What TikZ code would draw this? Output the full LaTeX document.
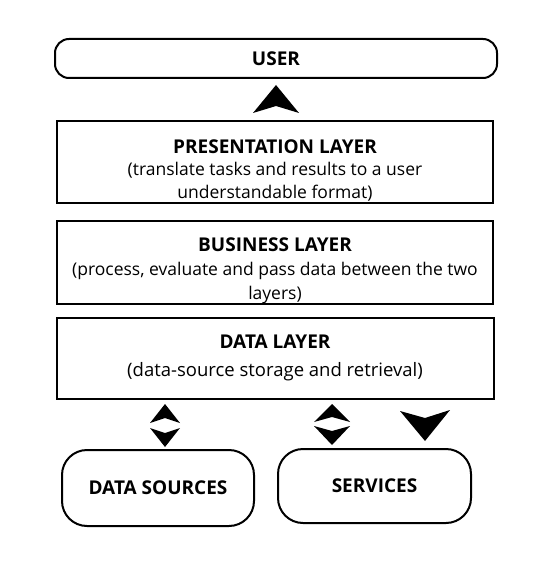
\documentclass[tikz,border=0pt]{standalone}
\usepackage{fontspec}
\setmainfont{Open Sans}
\usetikzlibrary{positioning}

\newcommand{\layertitle}[1]{{\fontsize{19}{23}\selectfont\bfseries #1}}

\tikzset{
  layer/.style={draw, line width=2pt, minimum width=436pt, minimum height=82pt, inner sep=0pt},
  layertext/.style={inner sep=0pt, align=center, font=\fontsize{17.5}{22.5}\selectfont},
  endbox/.style={draw, line width=2pt, rounded corners=25pt, inner sep=0pt,
    align=center, font=\fontsize{19}{23}\selectfont\bfseries},
  headfill/.style={fill=black},
}

\begin{document}
\begin{tikzpicture}[x=1pt, y=-1pt]
\useasboundingbox (0,0) rectangle (554,583);

% User on top
\node[endbox, rounded corners=14pt, minimum width=442pt, minimum height=39pt] (user) at (276,58.5) {USER};

% The three layers
\node[layer] (pres) at (275,162) {};
\node[layertext] (pres-text) at (275,170) {\layertitle{PRESENTATION LAYER}\\(translate tasks and results to a user\\understandable format)};
\node[layer, minimum height=83pt] (bus) at (275,262.5) {};
\node[layertext, font=\fontsize{17.5}{24}\selectfont] (bus-text) at (275,271) {\layertitle{BUSINESS LAYER}\\(process, evaluate and pass data between the two\\layers)};
\node[layer, minimum width=437pt, minimum height=81pt] (data) at (275,358.5) {};
\node[layertext, font=\fontsize{18.5}{28}\selectfont] (data-text) at (275,358) {\layertitle{DATA LAYER}\\(data-source storage and retrieval)};

% Sources below
\node[endbox, minimum width=192pt, minimum height=76pt] (src) at (158,488) {DATA SOURCES};
\node[endbox, minimum width=193pt, minimum height=74pt] (serv) at (374.5,486) {SERVICES};

% Arrow heads
% presentation -> user
\fill[headfill] (276,85) -- (253,113) -- (276,106) -- (299,113) -- cycle;
% data <-> data sources
\fill[headfill] (165,404) -- (150,423) -- (165,418) -- (180,423) -- cycle;
\fill[headfill] (165,447) -- (150,428) -- (165,433) -- (180,428) -- cycle;
% data <-> services
\fill[headfill] (332,404) -- (314,422) -- (332,417) -- (350,422) -- cycle;
\fill[headfill] (332,445) -- (314,426) -- (332,431) -- (350,426) -- cycle;
% data -> services
\fill[headfill] (425,441) -- (400,411) -- (425,418) -- (450,410) -- cycle;
\end{tikzpicture}
\end{document}
